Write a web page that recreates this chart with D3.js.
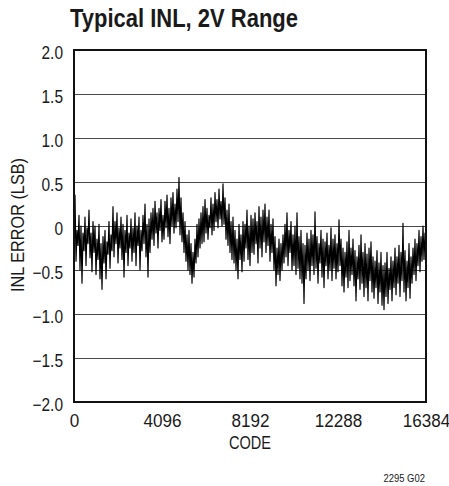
<!DOCTYPE html>
<html><head><meta charset="utf-8">
<script src="https://cdn.jsdelivr.net/npm/d3@7"></script>
<style>
body{margin:0;background:#fff;}
text{font-family:"Liberation Sans",Arial,Helvetica,sans-serif;fill:#1a1a1a;}
</style></head>
<body><svg id="c" width="449" height="486"></svg>
<script>
const yTicks = [-2.0,-1.5,-1.0,-0.5,0,0.5,1.0,1.5,2.0];
const yTickLabels = ["\u22122.0","\u22121.5","\u22121.0","\u22120.5","0","0.5","1.0","1.5","2.0"];
const xTicks = [0,4096,8192,12288,16384];
const xTickLabels = ["0","4096","8192","12288","16384"];
// INL error (LSB), read across the code range left to right
const inl = [
 0.02, 0.35,-0.40,-0.05,-0.22, 0.12,-0.50, 0.00,-0.65,-0.08,
-0.28, 0.10,-0.45,-0.02,-0.20, 0.18,-0.36,-0.08,-0.52, 0.05,
-0.30, 0.00,-0.55,-0.15,-0.38, 0.02,-0.60,-0.20,-0.72,-0.12,
-0.42,-0.05,-0.60,-0.18,-0.32, 0.05,-0.48,-0.10,-0.28, 0.22,
-0.35, 0.05,-0.20, 0.15,-0.42,-0.02,-0.25, 0.10,-0.38, 0.02,
-0.58,-0.05,-0.30, 0.12,-0.45,-0.08,-0.25, 0.08,-0.40,-0.02,
-0.30, 0.15,-0.45, 0.00,-0.22, 0.10,-0.50,-0.05,-0.28, 0.12,
-0.20, 0.25,-0.35, 0.02,-0.58, 0.08,-0.30, 0.15,-0.15, 0.20,
-0.22, 0.28,-0.08, 0.15,-0.25, 0.20,-0.05, 0.30,-0.18, 0.12,
-0.15, 0.28,-0.02, 0.35,-0.12, 0.20,-0.20, 0.32, 0.00, 0.38,
-0.08, 0.25,-0.02, 0.42, 0.05, 0.55,-0.10, 0.32,-0.18, 0.15,
-0.30, 0.05,-0.40,-0.10,-0.50,-0.05,-0.55,-0.20,-0.65,-0.30,
-0.58,-0.15,-0.42, 0.02,-0.35, 0.08,-0.25, 0.15,-0.20, 0.22,
-0.18, 0.30,-0.08, 0.20,-0.15, 0.12,-0.02, 0.32,-0.10, 0.25,
-0.05, 0.38, 0.05, 0.30,-0.02, 0.42, 0.08, 0.28, 0.00, 0.48,
 0.02, 0.32,-0.15, 0.18,-0.22, 0.25,-0.30, 0.05,-0.38, 0.10,
-0.42,-0.05,-0.50,-0.15,-0.60, 0.02,-0.38,-0.10,-0.52, 0.05,
-0.40, 0.02,-0.25, 0.18,-0.38, 0.00,-0.45, 0.12,-0.30, 0.08,
-0.32, 0.15,-0.20, 0.05,-0.42, 0.22,-0.25, 0.10,-0.35, 0.18,
-0.18, 0.25,-0.30, 0.10,-0.22, 0.18,-0.40, 0.02,-0.30, 0.08,
-0.50,-0.12,-0.68,-0.25,-0.55,-0.15,-0.62,-0.20,-0.50,-0.10,
-0.42, 0.02,-0.35, 0.15,-0.45,-0.05,-0.30, 0.05,-0.50,-0.10,
-0.45, 0.00,-0.55, 0.15,-0.48,-0.12,-0.60,-0.05,-0.65,-0.20,
-0.88,-0.22,-0.60,-0.08,-0.50,-0.15,-0.62,-0.05,-0.45,-0.10,
-0.55, 0.16,-0.48,-0.12,-0.65,-0.20,-0.42,-0.05,-0.58,-0.15,
-0.70,-0.18,-0.45,-0.08,-0.60,-0.22,-0.50,-0.02,-0.62,-0.15,
-0.48,-0.10,-0.60,-0.20,-0.52, 0.07,-0.45,-0.15,-0.68,-0.25,
-0.75,-0.30,-0.58,-0.18,-0.70,-0.05,-0.62,-0.25,-0.55,-0.15,
-0.68,-0.28,-0.85,-0.35,-0.60,-0.22,-0.72,-0.10,-0.65,-0.30,
-0.80,-0.20,-0.70,-0.32,-0.85,-0.25,-0.62,-0.18,-0.75,-0.35,
-0.82,-0.40,-0.70,-0.28,-0.88,-0.42,-0.75,-0.30,-0.90,-0.45,
-0.95,-0.42,-0.80,-0.30,-0.88,-0.48,-0.72,-0.35,-0.85,-0.40,
-0.70,-0.25,-0.78,-0.35,-0.65,-0.22,-0.80,-0.30,-0.62, 0.03,
-0.75,-0.28,-0.85,-0.40,-0.70,-0.20,-0.82,-0.35,-0.65,-0.25,
-0.55,-0.15,-0.62,-0.20,-0.45,-0.05,-0.52,-0.12,-0.40, 0.00,
-0.38,-0.08,-0.30
];
const codeMax = 16384;

const svg = d3.select("#c");
const L=74, R=426, T=50, B=402;
const SX = 0.86, SXX = 0.9; // condensed look
const x = d3.scaleLinear().domain([0,codeMax]).range([L,R]);
const y = d3.scaleLinear().domain([-2,2]).range([B,T]);

// gridlines
svg.append("g").selectAll("line").data(yTicks.slice(1,-1)).join("line")
  .attr("x1",L).attr("x2",R).attr("y1",d=>Math.round(y(d))+0.5).attr("y2",d=>Math.round(y(d))+0.5)
  .attr("stroke","#4a4a4a").attr("stroke-width",1);

// data
const line = d3.line().x((d,i)=>x(i*codeMax/(inl.length-1))).y(d=>y(d));
svg.append("path").datum(inl).attr("d",line).attr("fill","none")
  .attr("stroke","#000").attr("stroke-width",1.2).attr("stroke-linejoin","round");

// frame
svg.append("rect").attr("x",L).attr("y",T).attr("width",R-L).attr("height",B-T)
  .attr("fill","none").attr("stroke","#111").attr("stroke-width",2);

// axes labels via d3 axes
const yAxis = d3.axisLeft(y).tickValues(yTicks).tickFormat((d,i)=>yTickLabels[i]).tickSize(0).tickPadding(11);
const gy = svg.append("g").attr("transform",`translate(${L},0)`).call(yAxis);
gy.select(".domain").remove();
gy.selectAll("text").attr("font-size",18).attr("dy","0.45em").style("font-family",null).attr("fill","#1a1a1a")
  .each(function(){const t=d3.select(this);t.attr("x",+t.attr("x")/SX).attr("transform",`scale(${SX},1)`);});

const xAxis = d3.axisBottom(x).tickValues(xTicks).tickFormat((d,i)=>xTickLabels[i]).tickSize(0).tickPadding(12);
const gx = svg.append("g").attr("transform",`translate(0,${B})`).call(xAxis);
gx.select(".domain").remove();
gx.selectAll("text").attr("font-size",19).style("font-family",null).attr("fill","#1a1a1a")
  .attr("transform",`scale(${SXX},1)`);

svg.append("text").attr("x",70).attr("y",27).attr("font-size",26).attr("font-weight","bold")
  .attr("textLength",228).attr("lengthAdjust","spacingAndGlyphs").text("Typical INL, 2V Range");
svg.append("text").attr("x",229).attr("y",449).attr("font-size",19)
  .attr("textLength",42).attr("lengthAdjust","spacingAndGlyphs").text("CODE");
svg.append("text").attr("transform","translate(24,292) rotate(-90)").attr("font-size",18)
  .attr("textLength",134).attr("lengthAdjust","spacingAndGlyphs").text("INL ERROR (LSB)");
svg.append("text").attr("x",425).attr("y",482).attr("text-anchor","end").attr("font-size",11)
  .attr("transform",`translate(${425*(1-SX)},0) scale(${SX},1)`).text("2295 G02");
</script></body></html>
